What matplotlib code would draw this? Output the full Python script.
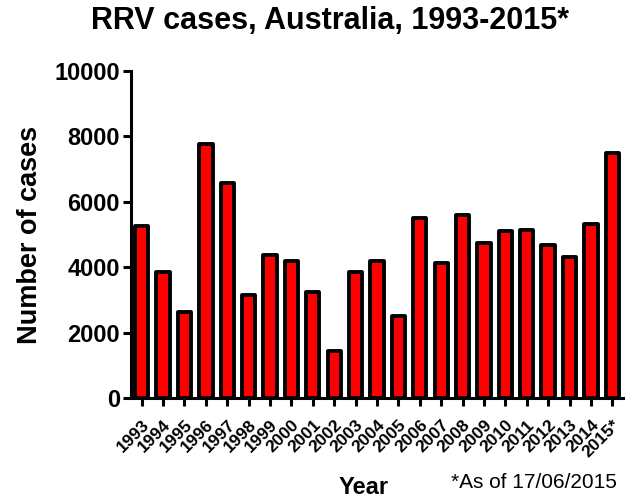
import matplotlib
matplotlib.use("Agg")
import matplotlib.pyplot as plt

plt.rcParams["font.family"] = ["Liberation Sans", "DejaVu Sans"]

years = ["1993", "1994", "1995", "1996", "1997", "1998", "1999", "2000",
         "2001", "2002", "2003", "2004", "2005", "2006", "2007", "2008",
         "2009", "2010", "2011", "2012", "2013", "2014", "2015*"]
cases = [5270, 3840, 2620, 7780, 6590, 3150, 4370, 4190,
         3230, 1440, 3840, 4190, 2510, 5510, 4140, 5610,
         4730, 5120, 5130, 4680, 4310, 5310, 7500]
yticks = [0, 2000, 4000, 6000, 8000, 10000]

fig = plt.figure(figsize=(6.38, 5.01), dpi=100)
ax = fig.add_axes([131 / 638, 1 - 398 / 501, (623 - 131) / 638, (398 - 71) / 501])

x = list(range(len(years)))
ax.bar(x, cases, width=0.62, color="#ff0000", edgecolor="black",
       linewidth=2.8, joinstyle="round", zorder=2)

ax.set_xlim(-0.5, len(years) - 0.5)
ax.set_ylim(0, 10000)
ax.set_yticks(yticks)
ax.set_yticklabels([str(v) for v in yticks], fontsize=17, fontweight="bold")
ax.set_xticks(x)
ax.set_xticklabels(years, rotation=45, ha="right", rotation_mode="anchor",
                   fontsize=12.5, fontweight="bold")

for side in ["top", "right"]:
    ax.spines[side].set_visible(False)
for side in ["left", "bottom"]:
    ax.spines[side].set_linewidth(2.2)
    ax.spines[side].set_zorder(3)
ax.tick_params(axis="both", direction="out", length=6, width=2.2)
ax.tick_params(axis="y", pad=2)
ax.tick_params(axis="x", pad=8)

ax.set_ylabel("Number of cases", fontsize=19.5, fontweight="bold", labelpad=8)

fig.text(330 / 638, 1 - 21 / 501, "RRV cases, Australia, 1993-2015*",
         ha="center", va="center", fontsize=22, fontweight="bold")
fig.text(364 / 638, 1 - 488 / 501, "Year", ha="center", va="center",
         fontsize=17, fontweight="bold")
fig.text(534 / 638, 1 - 483 / 501, "*As of 17/06/2015", ha="center",
         va="center", fontsize=15)

fig.savefig("out.png", dpi=100)
